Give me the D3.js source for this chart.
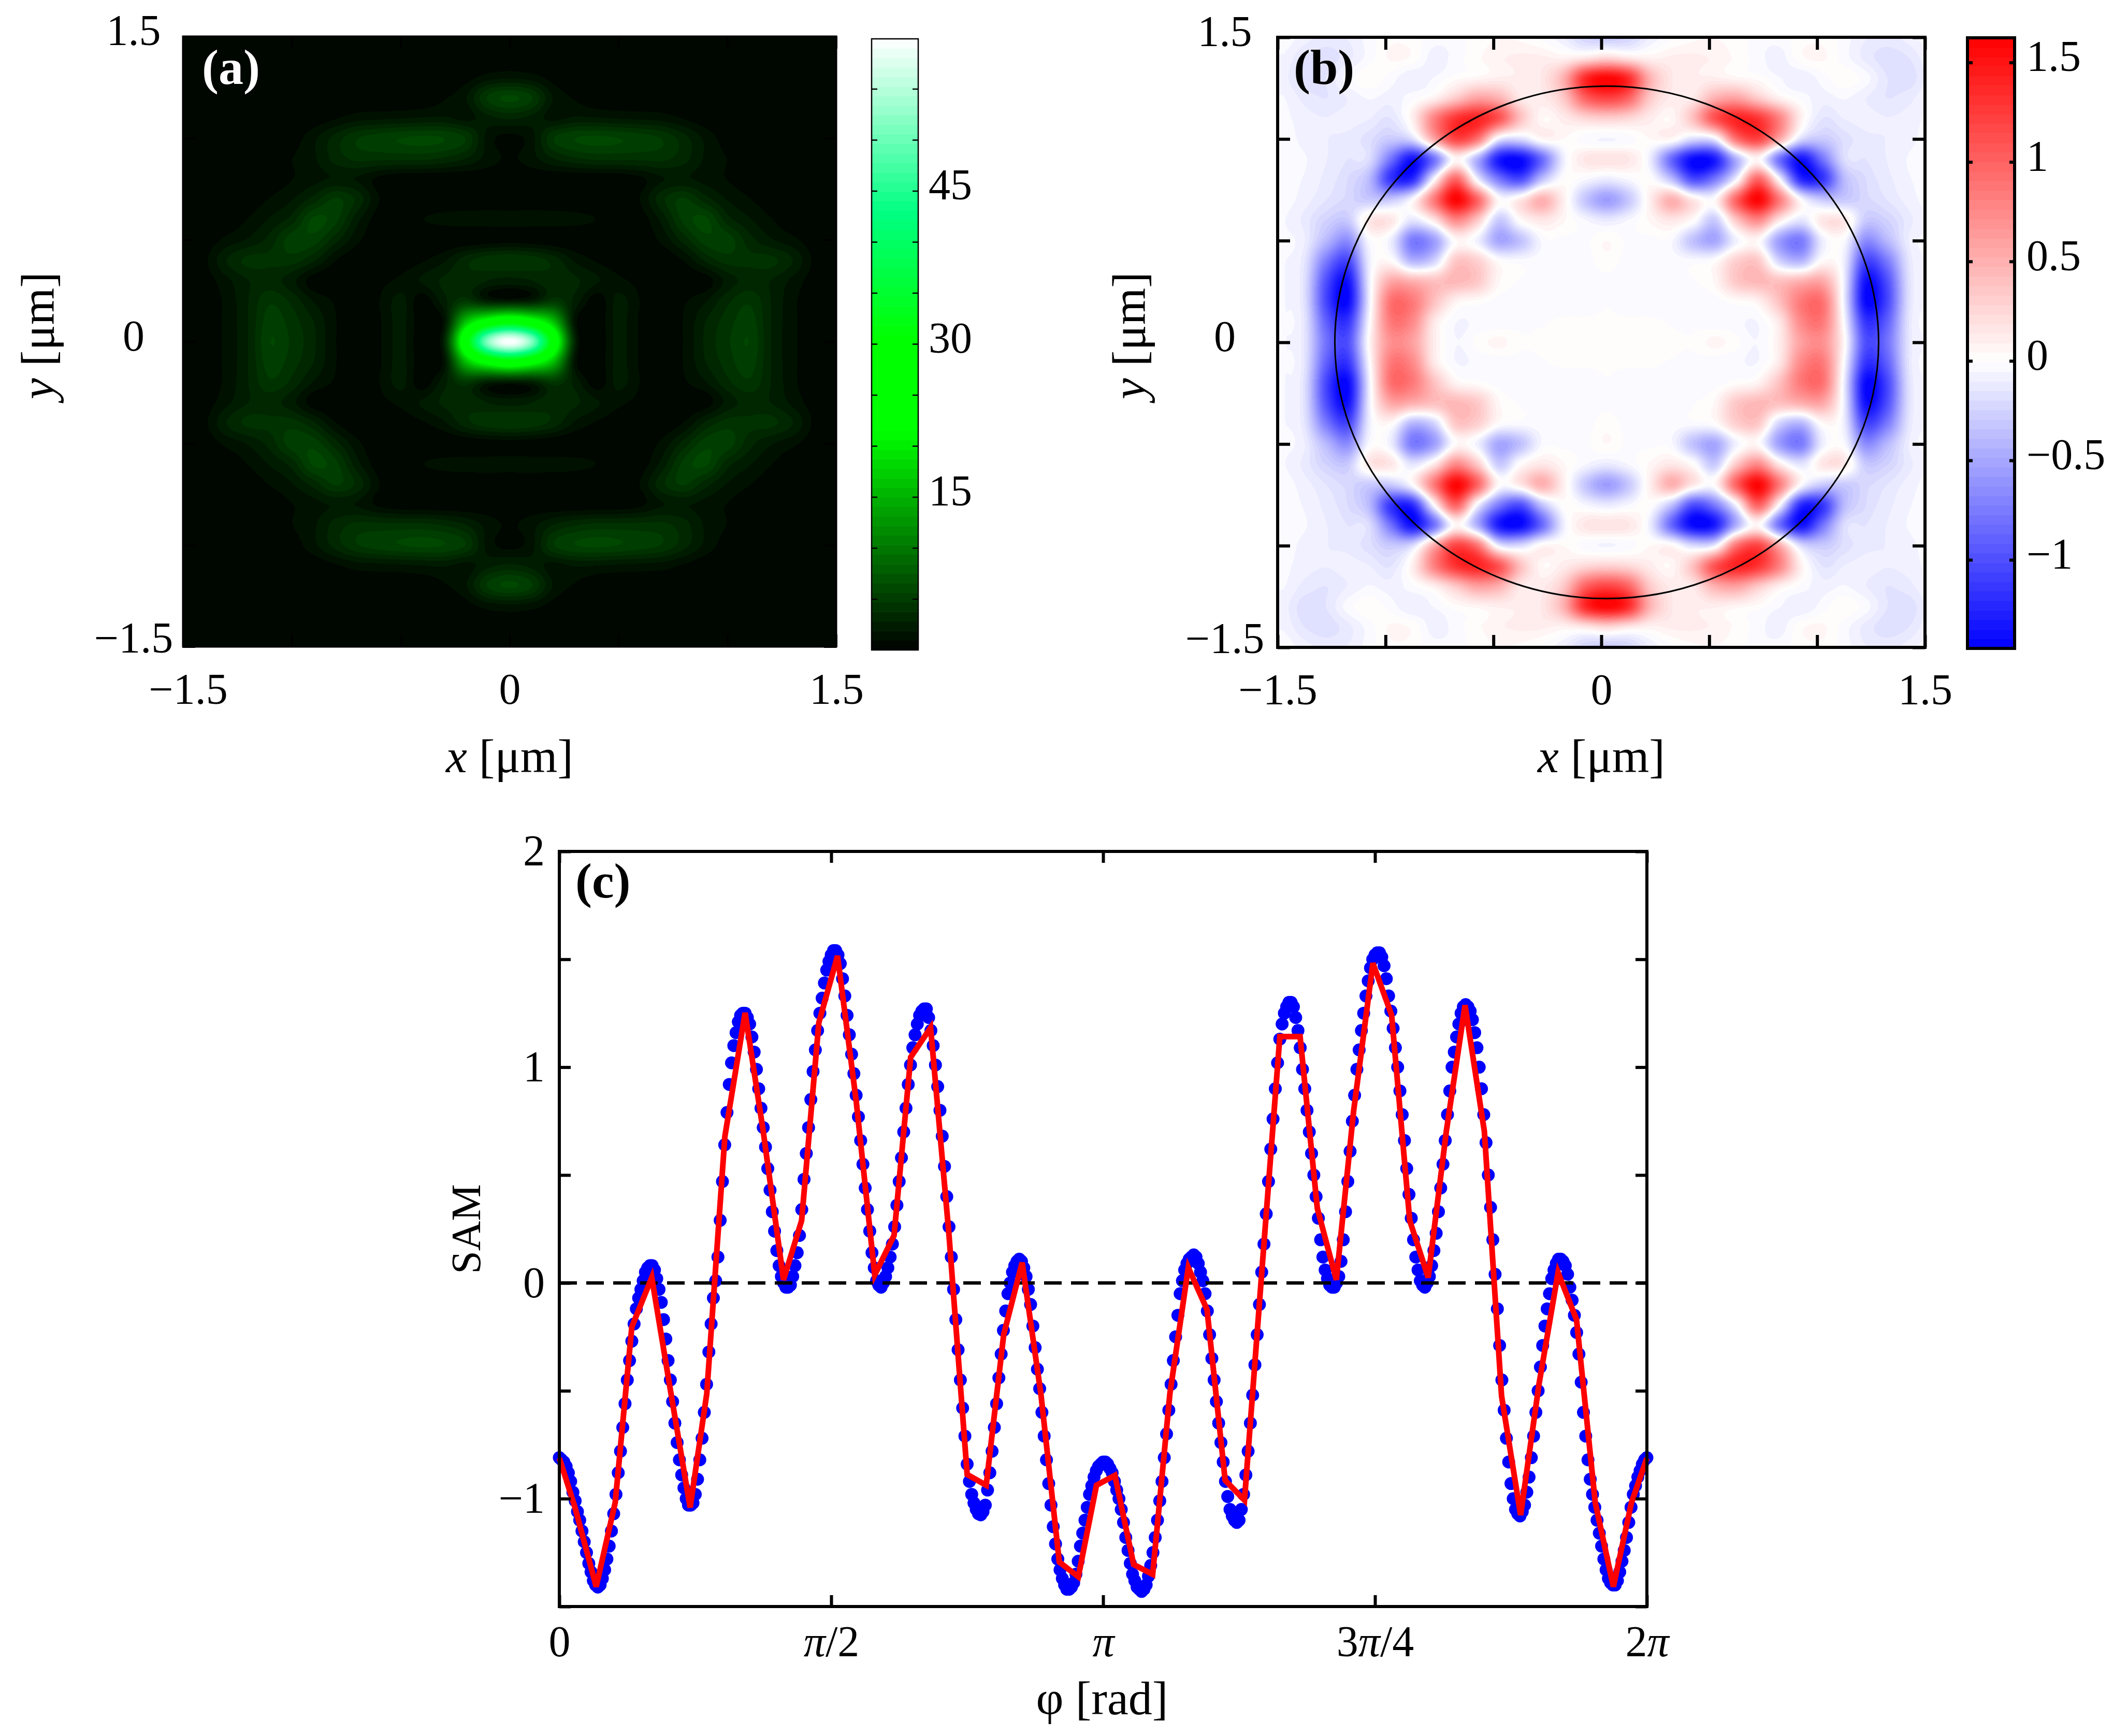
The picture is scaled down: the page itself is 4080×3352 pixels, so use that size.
<!DOCTYPE html>
<html>
<head>
<meta charset="utf-8">
<script src="https://cdn.jsdelivr.net/npm/d3@7"></script>
<style>
html,body{margin:0;padding:0;background:#fff;}
text{font-family:"Liberation Serif",serif;fill:#000;}
</style>
</head>
<body>
<div id="chart"></div>
<script>
// grid of the upper right quadrant, rows y = 0 .. 1.5, columns x = 0 .. 1.5 (step 0.1 um)
var gridStep = 0.1
var intensityRows = [
 [60,52,28,3,.3,2.2,.8,.1,1,3,4.5,5.6,2.8,1.2,.3,0],
 [28,24,16,1.5,.3,2.2,.8,.15,1,2.8,4.2,5.2,2.8,1.2,.3,0],
 [2,2.5,4.5,2.5,.3,2.2,.9,.3,.8,1.8,3.5,4.5,2.8,1.2,.2,0],
 [2.5,2.8,3.5,3,2,1.2,.6,.2,.1,.4,2.2,3.2,2.8,1.6,.4,0],
 [4.6,4.3,3.4,1.7,.8,.3,.1,.1,1,3,4.2,4,4,2.8,.7,.1],
 [.5,.4,.2,.05,0,.05,.2,1.2,3.2,5.2,5.2,3.2,2,1.2,.3,0],
 [1.3,1.3,1.3,1.2,.9,.2,.4,2.2,5,5.8,3.2,2,1,.2,0,0],
 [.3,.3,.2,.1,.05,.1,1,3.5,4.8,3.2,1.8,1,.3,0,0,0],
 [.3,.2,.1,.05,.1,.15,.7,1.8,2,1.5,.9,.3,0,0,0,0],
 [.8,1.5,2.8,3.6,4,4,4,4,3.2,1.7,.9,.2,0,0,0,0],
 [.6,1.5,4.6,5.6,5.8,5.6,5.2,4.6,3.2,1.6,.4,0,0,0,0,0],
 [3,2.5,1.5,2,1.9,1.7,1.6,1.4,.8,.2,0,0,0,0,0,0],
 [5.8,4.8,1.8,.8,.2,.1,.1,.1,0,0,0,0,0,0,0,0],
 [1.6,1.3,.5,.05,0,0,.05,.05,.05,.05,0,0,0,0,0,0],
 [.1,.1,0,0,0,0,0,0,0,0,0,0,0,0,0,0],
 [0,0,0,0,0,0,0,0,0,0,0,0,0,0,0,0]
]
var samMapRows = [
 [0,0,0,0,0,.06,.01,-.05,.12,.6,.7,.05,-1,-.8,-.15,-.05],
 [0,0,0,-.01,-.02,-.04,-.04,-.05,.15,.75,.85,-.02,-1.15,-.9,-.15,-.05],
 [-.01,-.03,-.03,-.03,-.04,-.03,.02,.08,.4,.85,.9,-.1,-1.4,-1.05,-.18,-.05],
 [-.02,-.03,-.03,-.02,-.01,.05,.35,.45,.4,.5,.55,-.1,-1.35,-1,-.18,-.05],
 [.02,-.03,-.03,-.02,-.03,.01,.3,.35,-.25,-.42,.03,-.1,-1.05,-.75,-.15,-.05],
 [.04,-.02,-.02,-.04,-.35,-.5,-.08,.03,-.55,-.75,-.1,-.03,-.65,-.4,-.1,-.04],
 [-.12,-.05,.05,.15,.02,-.3,.35,.75,.15,-.15,.15,.15,-.3,-.25,-.12,-.05],
 [-.55,-.32,.1,.5,.15,.03,1,1.6,.85,0,-.3,-.3,-.22,-.15,-.08,-.03],
 [-.12,-.05,.01,-.35,-1,-.75,-.05,1,0,-1.2,-1.15,-.4,-.2,-.12,-.06,-.03],
 [.18,.15,-.1,-.85,-1.4,-1.3,-.45,.05,-.8,-1.35,-.8,-.2,-.15,-.1,-.05,-.03],
 [-.06,-.03,.04,.05,-.2,-.1,.9,1.2,.55,-.2,-.3,-.18,-.12,-.1,-.07,-.03],
 [.3,.25,.12,.05,.4,1.1,1.4,1.3,.8,.1,-.15,-.1,-.08,-.1,-.08,-.04],
 [1.2,1,.35,.12,.15,.5,.6,.35,.1,-.02,-.08,-.05,-.1,-.15,-.12,-.05],
 [1.6,1.35,.5,.15,.1,.1,.06,.02,-.05,-.1,-.03,.03,-.03,-.15,-.18,-.08],
 [.25,.15,.08,.1,.1,.08,.03,-.03,-.08,.03,.05,-.03,-.12,-.18,-.15,-.06],
 [-.3,-.25,-.1,-.02,.03,.04,.02,-.03,-.03,.02,.03,-.03,-.1,-.12,-.08,-.02]
]
var samMapCenter = 0.025
var circleRadius = 1.26

var intensityStops = [0,21.5,30.5,43,60]
var intensityColors = ["#000000","#00ff00","#00ff00","#00ff82","#ffffff"]
var samStops = [-1.445,0,1.624]
var samColors = ["#0000ff","#ffffff","#ff0000"]
var colorLevels = 64

var xyTicks = [-1.5,-1,-0.5,0,0.5,1,1.5]
var xyLabels = {"-1.5":"\u22121.5","0":"0","1.5":"1.5"}
var intensityBarTicks = [5,10,15,20,25,30,35,40,45,50,55]
var intensityBarLabels = [15,30,45]
var samBarTicks = [-1,-0.5,0,0.5,1,1.5]
var samBarLabels = {"-1":"\u22121","-0.5":"\u22120.5","0":"0","0.5":"0.5","1":"1","1.5":"1.5"}

// blue points, one every 0.75 degrees from 0 to 360
var samPoints = [
 -.81,-.82,-.83,-.85,-.88,-.92,-.97,-1.01,-1.06,-1.10,-1.15,-1.20,-1.25,-1.30,-1.34,-1.38,-1.40,-1.41,-1.40,-1.37,-1.33,-1.28,-1.22,-1.15,-1.07,-.98,-.88,-.78,-.67,-.56,-.45,-.36,-.27,-.19,-.12,-.07,-.03,.01,.05,.07,
 .08,.08,.06,.02,-.03,-.09,-.17,-.26,-.36,-.45,-.55,-.65,-.74,-.82,-.89,-.95,-1.0,-1.03,-1.03,-1.02,-.98,-.91,-.82,-.72,-.60,-.47,-.32,-.19,-.07,.01,.12,.29,.47,.64,.79,.92,1.02,1.10,1.16,1.21,
 1.24,1.25,1.25,1.23,1.20,1.14,1.07,.99,.90,.81,.72,.63,.53,.43,.33,.24,.15,.08,.03,0,-.02,-.02,-.01,.03,.08,.14,.22,.34,.48,.60,.72,.85,.98,1.08,1.17,1.25,1.32,1.39,1.45,1.49,
 1.52,1.54,1.54,1.52,1.48,1.41,1.33,1.24,1.15,1.06,.97,.87,.77,.66,.55,.44,.34,.24,.14,.07,.01,-.01,-.02,0,.03,.07,.12,.18,.26,.36,.47,.58,.70,.81,.92,1.01,1.09,1.15,1.20,1.24,
 1.26,1.27,1.27,1.23,1.17,1.10,1.01,.91,.80,.68,.54,.40,.26,.12,-.03,-.17,-.31,-.45,-.58,-.71,-.84,-.92,-.98,-1.02,-1.05,-1.07,-1.075,-1.06,-1.03,-.96,-.88,-.78,-.67,-.56,-.44,-.33,-.22,-.13,-.05,0,
 .05,.08,.10,.11,.10,.07,.03,-.03,-.10,-.20,-.30,-.40,-.49,-.60,-.71,-.82,-.93,-1.03,-1.13,-1.21,-1.28,-1.33,-1.37,-1.40,-1.42,-1.42,-1.41,-1.39,-1.35,-1.29,-1.22,-1.16,-1.10,-1.04,-.98,-.94,-.90,-.87,-.85,-.84,
 -.83,-.83,-.84,-.86,-.88,-.92,-.96,-1.0,-1.05,-1.11,-1.18,-1.24,-1.30,-1.35,-1.38,-1.41,-1.42,-1.43,-1.42,-1.40,-1.36,-1.31,-1.25,-1.18,-1.10,-1.01,-.92,-.81,-.70,-.59,-.47,-.36,-.25,-.15,-.05,.01,.06,.09,.11,.12,
 .13,.12,.09,.05,.01,-.05,-.13,-.24,-.35,-.45,-.55,-.65,-.74,-.83,-.92,-.99,-1.05,-1.08,-1.10,-1.11,-1.10,-1.05,-.98,-.89,-.78,-.65,-.52,-.38,-.24,-.10,.05,.18,.32,.47,.62,.76,.90,1.02,1.13,1.20,
 1.25,1.28,1.30,1.30,1.28,1.23,1.17,1.09,.99,.90,.80,.70,.60,.50,.40,.30,.20,.12,.06,.02,-.01,-.02,-.02,0,.03,.10,.20,.33,.47,.61,.75,.87,.99,1.08,1.17,1.25,1.33,1.40,1.46,1.50,
 1.52,1.53,1.53,1.51,1.47,1.41,1.33,1.26,1.18,1.09,1.0,.89,.78,.66,.53,.41,.30,.20,.12,.06,.01,-.01,-.02,0,.03,.08,.15,.23,.33,.44,.55,.66,.78,.89,1.0,1.07,1.14,1.20,1.25,1.28,
 1.29,1.28,1.26,1.22,1.16,1.09,1.0,.90,.78,.65,.5,.35,.2,.04,-.12,-.29,-.45,-.59,-.72,-.83,-.93,-1.0,-1.05,-1.07,-1.08,-1.06,-1.03,-.97,-.90,-.81,-.71,-.60,-.50,-.39,-.29,-.20,-.12,-.05,.02,.06,
 .09,.11,.11,.10,.08,.04,-.02,-.08,-.15,-.23,-.33,-.46,-.60,-.71,-.82,-.91,-.98,-1.04,-1.10,-1.16,-1.22,-1.28,-1.33,-1.37,-1.39,-1.40,-1.40,-1.38,-1.34,-1.29,-1.24,-1.18,-1.11,-1.04,-.98,-.94,-.90,-.87,-.84,-.82,
 -.81
]
var pointStep = 0.75

// red line
var fitPhi = [0,5.2,12.2,18.5,24,30.6,36.7,43.3,48.8,54.8,61.5,67.5,74.2,80.2,85.9,92.1,98.3,104.4,110.8,116.3,122.9,129,135,141.3,147.1,153.2,159.4,165.5,171.8,177.8,183.9,190.1,196.4,202.1,208.2,214.4,220.4,226.8,232.2,238.5,245.2,250.9,257.2,262.9,269.3,275.5,281.5,287.6,293.6,299.8,306.2,311.9,318.2,324.3,330.6,336.7,342.9,348.9,354.9,360]
var fitVals = [-.812,-1.041,-1.408,-1.018,-.204,.025,-.491,-1.041,-.514,.679,1.252,.702,.014,.289,1.206,1.516,.839,.037,.22,1.046,1.183,.22,-.888,-.938,-.239,.094,-.514,-1.294,-1.362,-.938,-.892,-1.305,-1.351,-.514,.071,-.124,-.915,-1.007,-.009,1.142,1.142,.346,.014,.794,1.482,1.241,.289,.025,.702,1.287,.702,-.525,-1.076,-.468,.048,-.17,-1.018,-1.408,-1.018,-.812]

var phiTicks = [0,90,180,270,360]
var phiLabels = ["0","\u03c0/2","\u03c0","3\u03c0/4","2\u03c0"]
var samTicks = [-1.5,-1,-0.5,0,0.5,1,1.5,2]
var samLabels = {"-1":"\u22121","0":"0","1":"1","2":"2"}

var svgWidth = 4080
var svgHeight = 3352
var fontSize = 84
var titleSize = 92

var svg = d3.select("#chart").append("svg")
    .attr("width", svgWidth)
    .attr("height", svgHeight)
    .style("display", "block")

function cubic(a, b, c, d, t){
    return b + 0.5*t*(c-a + t*(2*a-5*b+4*c-d + t*(3*(b-c)+d-a)))
}

// display smoothing of the read grid, mirrored into the other quadrants
function sampleGrid(rows, x, y){
    var n = rows.length-1
    var fx = Math.min(Math.abs(x)/gridStep, n), fy = Math.min(Math.abs(y)/gridStep, n)
    var ix = Math.floor(fx), iy = Math.floor(fy)
    var cell = function(i, j){ return rows[Math.min(Math.abs(j), n)][Math.min(Math.abs(i), n)] }
    var col = []
    for (var k=-1; k<=2; k++){
        col.push(cubic(cell(ix-1,iy+k), cell(ix,iy+k), cell(ix+1,iy+k), cell(ix+2,iy+k), fx-ix))
    }
    return cubic(col[0], col[1], col[2], col[3], fy-iy)
}

function levelColor(stops, colors){
    var base = d3.scaleLinear().domain(stops).range(colors).clamp(true)
    var lo = stops[0], hi = stops[stops.length-1]
    var step = (hi-lo)/colorLevels
    return function(v){
        var k = Math.min(Math.floor((v-lo)/step), colorLevels-1)
        k = Math.max(k, 0)
        return base(lo+(k+0.5)*step)
    }
}

function drawHeat(g, rows, x, y, color, center){
    var x0 = x.range()[0], x1 = x.range()[1], y0 = y.range()[1], y1 = y.range()[0]
    var w = Math.round(x1-x0), h = Math.round(y1-y0)
    var canvas = document.createElement("canvas")
    canvas.width = w
    canvas.height = h
    var ctx = canvas.getContext("2d")
    var img = ctx.createImageData(w, h)
    var cache = {}
    for (var j=0; j<h; j++){
        var vy = y.invert(y0+j+0.5)
        for (var i=0; i<w; i++){
            var v = sampleGrid(rows, x.invert(x0+i+0.5)-center, vy)
            var c = color(v)
            var rgb = cache[c] || (cache[c] = d3.rgb(c))
            var p = 4*(j*w+i)
            img.data[p] = rgb.r
            img.data[p+1] = rgb.g
            img.data[p+2] = rgb.b
            img.data[p+3] = 255
        }
    }
    ctx.putImageData(img, 0, 0)
    g.append("image")
        .attr("x", x0).attr("y", y0)
        .attr("width", w).attr("height", h)
        .attr("href", canvas.toDataURL())
}

function styleAxis(a, width){
    a.select(".domain").remove()
    a.attr("font-family", null).attr("font-size", null)
    a.selectAll("line").attr("stroke", "#000").attr("stroke-width", width)
    a.selectAll("text").attr("font-size", fontSize).attr("fill", "#000")
}

function box(g, x, y, width){
    g.append("rect")
        .attr("x", x.range()[0]).attr("y", y.range()[1])
        .attr("width", x.range()[1]-x.range()[0])
        .attr("height", y.range()[0]-y.range()[1])
        .attr("fill", "none")
        .attr("stroke", "#000")
        .attr("stroke-width", width)
}

function drawFrame(g, x, y, o){
    var left = x.range()[0], right = x.range()[1], top = y.range()[1], bottom = y.range()[0]
    var bot = g.append("g").attr("transform", `translate(0,${bottom})`)
        .call(d3.axisBottom(x).tickValues(o.xTicks).tickSize(-o.tick).tickPadding(o.xPad).tickFormat(o.xFmt))
    var lef = g.append("g").attr("transform", `translate(${left},0)`)
        .call(d3.axisLeft(y).tickValues(o.yTicks).tickSize(-o.tick).tickPadding(o.yPad).tickFormat(o.yFmt))
    var to = g.append("g").attr("transform", `translate(0,${top})`)
        .call(d3.axisTop(x).tickValues(o.xTicks).tickSize(-o.tick).tickFormat(""))
    var rig = g.append("g").attr("transform", `translate(${right},0)`)
        .call(d3.axisRight(y).tickValues(o.yTicks).tickSize(-o.tick).tickFormat(""))
    ;[bot,lef,to,rig].forEach(function(a){ styleAxis(a, o.width) })
    box(g, x, y, o.width)
    return {bottom: bot, left: lef}
}

function xyPanel(g, x, y, labelCenter, width, labelColor, name, nameX, xNudge){
    var fmt = function(d){ return xyLabels[d] || "" }
    var a = drawFrame(g, x, y, {xTicks:xyTicks, yTicks:xyTicks, xFmt:fmt, yFmt:fmt, tick:24, width:width, xPad:50, yPad:28})
    a.left.selectAll("text")
        .attr("text-anchor", "middle")
        .attr("x", labelCenter-x.range()[0])
        .attr("dy", d=> d==-1.5 ? "0.12em" : "0.2em")
    a.bottom.selectAll("text").attr("dx", d=> d==-1.5 ? xNudge : 0)
    g.append("text").attr("x", nameX).attr("y", 162)
        .attr("font-size", 96).attr("font-weight", "bold")
        .style("fill", labelColor).text(name)

    var xc = (x.range()[0]+x.range()[1])/2
    var xl = g.append("text").attr("x", xc).attr("y", 1491)
        .attr("font-size", titleSize).attr("text-anchor", "middle")
    xl.append("tspan").attr("font-style", "italic").text("x")
    xl.append("tspan").text(" [\u03bcm]")
    var yl = g.append("text")
        .attr("transform", `translate(${labelCenter-154},648) rotate(-90)`)
        .attr("font-size", titleSize).attr("text-anchor", "middle")
    yl.append("tspan").attr("font-style", "italic").text("y")
    yl.append("tspan").text(" [\u03bcm]")
}

function colorBar(g, left, right, top, bottom, stops, color, ticks, labels, tickLen, width, labelX){
    var y = d3.scaleLinear().domain([stops[0], stops[stops.length-1]]).range([bottom, top])
    var step = (stops[stops.length-1]-stops[0])/colorLevels
    var levels = d3.range(colorLevels).map(d=> stops[0]+d*step)
    g.selectAll(null).data(levels).enter().append("rect")
        .attr("x", left).attr("width", right-left)
        .attr("y", d=> y(d+step))
        .attr("height", d=> y(d)-y(d+step)+0.6)
        .attr("fill", d=> color(d+step/2))
    var l = g.append("g").attr("transform", `translate(${left},0)`)
        .call(d3.axisLeft(y).tickValues(ticks).tickSize(-tickLen).tickFormat(""))
    var r = g.append("g").attr("transform", `translate(${right},0)`)
        .call(d3.axisRight(y).tickValues(ticks).tickSize(-tickLen).tickFormat(""))
    styleAxis(l, width)
    styleAxis(r, width)
    g.append("rect").attr("x", left).attr("y", top)
        .attr("width", right-left).attr("height", bottom-top)
        .attr("fill", "none").attr("stroke", "#000").attr("stroke-width", width)
    g.selectAll(null).data(Object.keys(labels)).enter().append("text")
        .attr("x", labelX)
        .attr("y", d=> y(+d))
        .attr("dy", "0.2em")
        .attr("font-size", fontSize)
        .text(d=> labels[d])
}

// panel a
var xA = d3.scaleLinear().domain([-1.5,1.5]).range([353,1615])
var yA = d3.scaleLinear().domain([-1.5,1.5]).range([1249,70])
var colorA = levelColor(intensityStops, intensityColors)
var panelA = svg.append("g")
drawHeat(panelA, intensityRows, xA, yA, colorA, 0)
xyPanel(panelA, xA, yA, 258, 3, "#fff", "(a)", 390, 10)
var barLabelsA = {}
intensityBarLabels.forEach(function(d){ barLabelsA[d] = String(d) })
colorBar(panelA, 1683, 1773, 75, 1255, [0,21.5,30.5,43,59.9], colorA, intensityBarTicks, barLabelsA, 11, 2.5, 1793)

// panel b
var xB = d3.scaleLinear().domain([-1.5,1.5]).range([2467,3717])
var yB = d3.scaleLinear().domain([-1.5,1.5]).range([1250,72])
var colorB = levelColor(samStops, samColors)
var panelB = svg.append("g")
drawHeat(panelB, samMapRows, xB, yB, colorB, samMapCenter)
panelB.append("ellipse")
    .attr("cx", xB(samMapCenter))
    .attr("cy", yB(0))
    .attr("rx", xB(circleRadius)-xB(0))
    .attr("ry", yB(0)-yB(circleRadius))
    .attr("fill", "none")
    .attr("stroke", "#000")
    .attr("stroke-width", 3)
xyPanel(panelB, xB, yB, 2365, 6, "#000", "(b)", 2498, 0)
colorBar(panelB, 3799, 3890, 73, 1252, samStops, colorB, samBarTicks, samBarLabels, 10, 6, 3913)

// panel c
var xC = d3.scaleLinear().domain([0,360]).range([1080,3180])
var yC = d3.scaleLinear().domain([-1.5,2]).range([3102,1644])
var panelC = svg.append("g")

panelC.selectAll("circle.sam")
    .data(samPoints)
    .enter()
    .append("circle")
    .classed("sam", true)
    .attr("cx", (d,i)=> xC(i*pointStep))
    .attr("cy", d=> yC(d))
    .attr("r", 12.5)
    .attr("fill", "#0000ff")

panelC.append("line")
    .attr("x1", xC(0)).attr("x2", xC(360))
    .attr("y1", yC(0)).attr("y2", yC(0))
    .attr("stroke", "#000")
    .attr("stroke-width", 6.5)
    .attr("stroke-dasharray", "34 18")

var fitLine = d3.line()
    .x((d,i)=> xC(fitPhi[i]))
    .y(d=> yC(d))

panelC.append("path")
    .attr("d", fitLine(fitVals))
    .attr("fill", "none")
    .attr("stroke", "#ff0000")
    .attr("stroke-width", 11)
    .attr("stroke-linejoin", "miter")

var axesC = drawFrame(panelC, xC, yC, {
    xTicks: phiTicks,
    yTicks: samTicks,
    xFmt: d=> phiLabels[phiTicks.indexOf(d)],
    yFmt: d=> samLabels[d] || "",
    tick: 22, width: 6, xPad: 36, yPad: 28
})
axesC.bottom.selectAll("text")
    .html(d=> phiLabels[phiTicks.indexOf(d)].replace("\u03c0", '<tspan font-style="italic">\u03c0</tspan>'))

panelC.append("text").attr("x", 1111).attr("y", 1733)
    .attr("font-size", 96).attr("font-weight", "bold").text("(c)")
panelC.append("text").attr("x", 2128).attr("y", 3310)
    .attr("font-size", titleSize).attr("text-anchor", "middle").text("\u03c6 [rad]")
panelC.append("text")
    .attr("transform", "translate(927,2373) rotate(-90)")
    .attr("font-size", 80).attr("text-anchor", "middle").text("SAM")
</script>
</body>
</html>
